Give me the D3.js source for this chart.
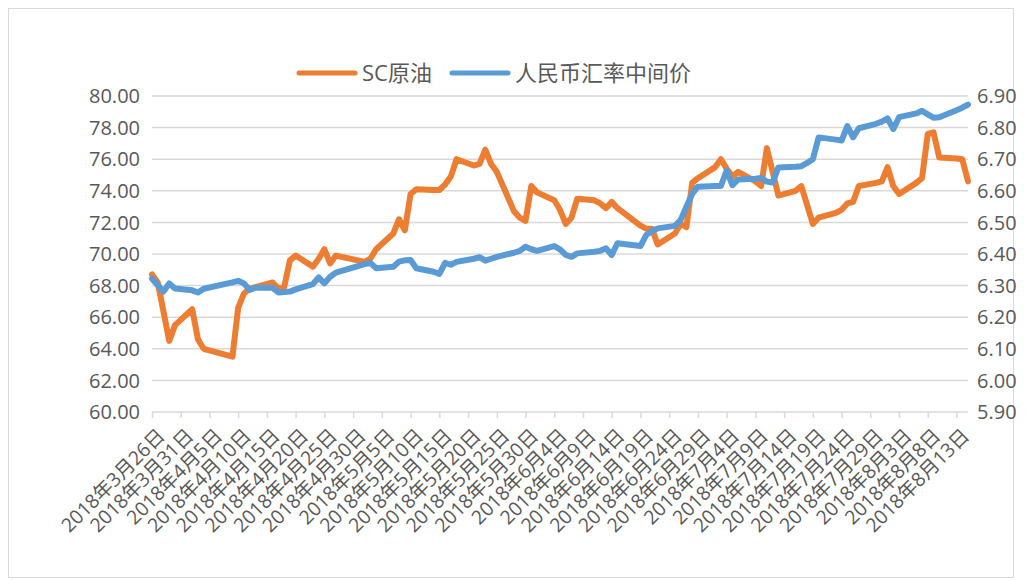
<!DOCTYPE html>
<html>
<head>
<meta charset="utf-8">
<script src="https://cdn.jsdelivr.net/npm/d3@7.9.0/dist/d3.min.js"></script>
<style>
  body { margin: 0; background: #fff; }
  svg text { font-family: "Open Sans", "Noto Sans CJK SC", sans-serif; fill: #595959; }
</style>
</head>
<body>
<svg id="chart" width="1033" height="580"></svg>
<script>
// SC原油 (left axis)
const scDates = ['2018-03-26','2018-03-27','2018-03-29','2018-03-30','2018-04-02','2018-04-03','2018-04-04',
  '2018-04-09','2018-04-10','2018-04-11','2018-04-12','2018-04-13','2018-04-16','2018-04-17','2018-04-18',
  '2018-04-19','2018-04-20','2018-04-23','2018-04-24','2018-04-25','2018-04-26','2018-04-27','2018-05-02',
  '2018-05-03','2018-05-04','2018-05-07','2018-05-08','2018-05-09','2018-05-10','2018-05-11','2018-05-14',
  '2018-05-15','2018-05-16','2018-05-17','2018-05-18','2018-05-21','2018-05-22','2018-05-23','2018-05-24',
  '2018-05-25','2018-05-28','2018-05-29','2018-05-30','2018-05-31','2018-06-01','2018-06-04','2018-06-05',
  '2018-06-06','2018-06-07','2018-06-08','2018-06-11','2018-06-12','2018-06-13','2018-06-14','2018-06-15',
  '2018-06-19','2018-06-20','2018-06-21','2018-06-22','2018-06-25','2018-06-26','2018-06-27','2018-06-28',
  '2018-06-29','2018-07-02','2018-07-03','2018-07-04','2018-07-05','2018-07-06','2018-07-09','2018-07-10',
  '2018-07-11','2018-07-13','2018-07-16','2018-07-17','2018-07-19','2018-07-20','2018-07-23','2018-07-24',
  '2018-07-25','2018-07-26','2018-07-27','2018-07-30','2018-07-31','2018-08-01','2018-08-02','2018-08-03',
  '2018-08-06','2018-08-07','2018-08-08','2018-08-09','2018-08-10','2018-08-13','2018-08-14','2018-08-15'];
const scValues = [68.7,68.2,64.5,65.5,66.5,64.6,64.0,
  63.5,66.6,67.5,67.8,67.9,68.2,67.8,67.9,
  69.6,69.9,69.2,69.7,70.3,69.4,69.9,69.5,
  69.7,70.3,71.3,72.2,71.5,73.8,74.1,74.05,
  74.05,74.4,74.9,76.0,75.6,75.7,76.6,75.7,
  75.2,72.7,72.3,72.1,74.3,73.9,73.4,72.8,
  71.9,72.3,73.5,73.4,73.2,72.9,73.3,72.9,
  71.8,71.6,71.6,70.6,71.3,71.9,71.7,74.5,
  74.8,75.5,76.0,75.4,74.9,75.2,74.6,74.3,
  76.7,73.7,74.0,74.3,71.9,72.3,72.6,72.8,
  73.2,73.3,74.3,74.5,74.6,75.5,74.3,73.8,
  74.5,74.8,77.6,77.7,76.1,76.05,76.0,74.6];

// 人民币汇率中间价 (right axis)
const fxDates = ['2018-03-26','2018-03-28','2018-03-29','2018-03-30','2018-04-02','2018-04-03','2018-04-04',
  '2018-04-09','2018-04-10','2018-04-11','2018-04-12','2018-04-13','2018-04-16','2018-04-17','2018-04-18',
  '2018-04-19','2018-04-20','2018-04-23','2018-04-24','2018-04-25','2018-04-26','2018-04-27','2018-05-02',
  '2018-05-03','2018-05-04','2018-05-07','2018-05-08','2018-05-09','2018-05-10','2018-05-11','2018-05-14',
  '2018-05-15','2018-05-16','2018-05-17','2018-05-18','2018-05-21','2018-05-22','2018-05-23','2018-05-24',
  '2018-05-25','2018-05-28','2018-05-29','2018-05-30','2018-05-31','2018-06-01','2018-06-04','2018-06-05',
  '2018-06-06','2018-06-07','2018-06-08','2018-06-11','2018-06-12','2018-06-13','2018-06-14','2018-06-15',
  '2018-06-19','2018-06-20','2018-06-21','2018-06-22','2018-06-25','2018-06-26','2018-06-27','2018-06-28',
  '2018-06-29','2018-07-02','2018-07-03','2018-07-04','2018-07-05','2018-07-06','2018-07-09','2018-07-10',
  '2018-07-11','2018-07-12','2018-07-13','2018-07-16','2018-07-17','2018-07-18','2018-07-19','2018-07-20',
  '2018-07-23','2018-07-24','2018-07-25','2018-07-26','2018-07-27','2018-07-30','2018-07-31','2018-08-01',
  '2018-08-02','2018-08-03','2018-08-06','2018-08-07','2018-08-08','2018-08-09','2018-08-10','2018-08-13',
  '2018-08-14','2018-08-15'];
const fxValues = [6.322,6.281,6.307,6.291,6.285,6.278,6.290,
  6.310,6.315,6.307,6.286,6.293,6.293,6.278,6.280,
  6.281,6.288,6.305,6.326,6.307,6.328,6.341,6.368,
  6.372,6.355,6.360,6.376,6.380,6.381,6.355,6.344,
  6.337,6.372,6.366,6.375,6.385,6.390,6.379,6.385,
  6.391,6.404,6.410,6.423,6.415,6.410,6.425,6.415,
  6.397,6.391,6.402,6.407,6.410,6.418,6.397,6.434,
  6.425,6.460,6.472,6.481,6.489,6.508,6.550,6.590,
  6.613,6.615,6.615,6.664,6.618,6.636,6.638,6.641,
  6.629,6.626,6.674,6.676,6.678,6.688,6.700,6.769,
  6.762,6.759,6.805,6.769,6.798,6.812,6.819,6.829,
  6.795,6.833,6.845,6.853,6.842,6.831,6.833,6.855,
  6.863,6.873];

const leftTicks = [60,62,64,66,68,70,72,74,76,78,80];
const rightTicks = [5.9,6.0,6.1,6.2,6.3,6.4,6.5,6.6,6.7,6.8,6.9];
const seriesNames = ['SC原油', '人民币汇率中间价'];
const seriesColors = ['#ED7D31', '#5B9BD5'];

const parse = d3.timeParse('%Y-%m-%d');
const fmt = d3.timeFormat('%Y年%-m月%-d日');
const start = parse('2018-03-26');
const end = parse('2018-08-15');
const xTicks = d3.range(0, 141, 5).map(d => d3.timeDay.offset(start, d));

const sc = scDates.map((d, i) => ({ date: parse(d), value: scValues[i] }));
const fx = fxDates.map((d, i) => ({ date: parse(d), value: fxValues[i] }));

const svg = d3.select('#chart');

const x = d3.scaleTime().domain([start, end]).range([152, 968]);
const yL = d3.scaleLinear().domain([60, 80]).range([412, 96]);
const yR = d3.scaleLinear().domain([5.9, 6.9]).range([412, 96]);

// frame
svg.append('rect')
  .attr('x', 8.5).attr('y', 8.5)
  .attr('width', 1005).attr('height', 569)
  .attr('fill', 'none')
  .attr('stroke', '#D9D9D9');

// grid
svg.append('g')
  .selectAll('line')
  .data(leftTicks)
  .join('line')
    .attr('x1', 152).attr('x2', 968)
    .attr('y1', d => yL(d)).attr('y2', d => yL(d))
    .attr('stroke', '#D9D9D9')
    .attr('stroke-width', 1.5);

// x axis
const xAxis = svg.append('g')
  .attr('transform', `translate(0,${yL(60)})`)
  .call(d3.axisBottom(x).tickValues(xTicks).tickSize(6).tickFormat(''));
xAxis.select('.domain').remove();
xAxis.selectAll('.tick line').attr('stroke', '#D9D9D9').attr('stroke-width', 1.5);

svg.append('g')
  .selectAll('text')
  .data(xTicks)
  .join('text')
    .attr('transform', d => `translate(${x(d) + 14},${yL(60) + 25}) rotate(-45)`)
    .attr('text-anchor', 'end')
    .style('font-size', '19.5px')
    .text(d => fmt(d));

// y labels
svg.append('g')
  .selectAll('text')
  .data(leftTicks)
  .join('text')
    .attr('x', 140)
    .attr('y', d => yL(d))
    .attr('dy', '0.36em')
    .attr('text-anchor', 'end')
    .style('font-size', '20px')
    .text(d => d.toFixed(2));

svg.append('g')
  .selectAll('text')
  .data(rightTicks)
  .join('text')
    .attr('x', 977)
    .attr('y', d => yR(d))
    .attr('dy', '0.36em')
    .style('font-size', '20px')
    .text(d => d.toFixed(2));

// lines
const lineL = d3.line().x(d => x(d.date)).y(d => yL(d.value));
const lineR = d3.line().x(d => x(d.date)).y(d => yR(d.value));

svg.append('path')
  .datum(sc)
  .attr('d', lineL)
  .attr('fill', 'none')
  .attr('stroke', seriesColors[0])
  .attr('stroke-width', 6)
  .attr('stroke-linejoin', 'round')
  .attr('stroke-linecap', 'round');

svg.append('path')
  .datum(fx)
  .attr('d', lineR)
  .attr('fill', 'none')
  .attr('stroke', seriesColors[1])
  .attr('stroke-width', 6)
  .attr('stroke-linejoin', 'round')
  .attr('stroke-linecap', 'round');

// legend
const legendX = [299, 452];
const legend = svg.append('g');
seriesNames.forEach((name, i) => {
  legend.append('line')
    .attr('x1', legendX[i]).attr('x2', legendX[i] + 56)
    .attr('y1', 73).attr('y2', 73)
    .attr('stroke', seriesColors[i])
    .attr('stroke-width', 5)
    .attr('stroke-linecap', 'round');
  legend.append('text')
    .attr('x', legendX[i] + 63)
    .attr('y', 73)
    .attr('dy', '0.36em')
    .style('font-size', '22px')
    .text(name);
});
</script>
</body>
</html>
